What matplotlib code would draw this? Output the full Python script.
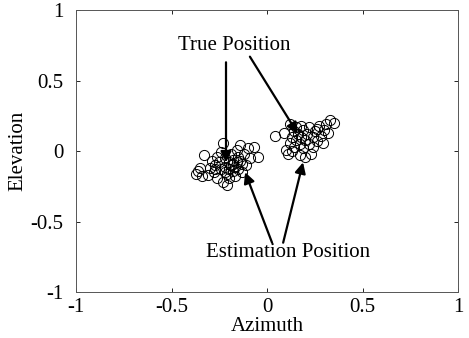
import matplotlib
matplotlib.use('Agg')
import matplotlib.pyplot as plt
from matplotlib.ticker import FormatStrFormatter

plt.rcParams['font.family'] = ['Liberation Serif', 'DejaVu Serif']
plt.rcParams['axes.unicode_minus'] = False

# estimated positions, left cluster (true position near (-0.2, -0.1))
left_x = [-0.36, -0.37, -0.34, -0.33, -0.30, -0.28, -0.27, -0.26, -0.25, -0.24,
          -0.23, -0.23, -0.22, -0.22, -0.21, -0.20, -0.20, -0.19, -0.19, -0.18,
          -0.18, -0.17, -0.16, -0.16, -0.15, -0.15, -0.14, -0.13, -0.12, -0.11,
          -0.10, -0.09, -0.07, -0.05, -0.21, -0.29, -0.24, -0.17, -0.13, -0.26, -0.20,
          -0.31, -0.35, -0.22, -0.18, -0.14, -0.27]
left_y = [-0.14, -0.16, -0.18, -0.03, -0.12, -0.15, -0.10, -0.19, -0.08, -0.13,
          -0.22, 0.06, -0.05, -0.11, -0.16, -0.08, -0.13, -0.02, -0.10, -0.14,
          -0.06, -0.11, 0.01, -0.08, -0.13, -0.04, 0.04, -0.09, -0.02, -0.10,
          0.02, -0.05, 0.03, -0.04, -0.24, -0.07, -0.01, -0.18, -0.15, -0.04, -0.19,
          -0.17, -0.12, -0.15, -0.09, -0.07, -0.13]

# right cluster (true position near (0.2, 0.1))
right_x = [0.04, 0.09, 0.10, 0.11, 0.12, 0.13, 0.14, 0.14, 0.15, 0.16,
           0.17, 0.17, 0.18, 0.19, 0.19, 0.20, 0.21, 0.22, 0.22, 0.23,
           0.24, 0.25, 0.26, 0.27, 0.28, 0.29, 0.30, 0.31, 0.32, 0.33,
           0.35, 0.18, 0.15, 0.12, 0.24, 0.20, 0.26, 0.13]
right_y = [0.11, 0.13, 0.01, -0.02, 0.06, 0.10, 0.03, 0.14, 0.08, 0.12,
           -0.03, 0.05, 0.10, 0.15, 0.02, 0.08, 0.12, 0.05, 0.17, -0.02,
           0.10, 0.14, 0.07, 0.18, 0.11, 0.06, 0.15, 0.19, 0.13, 0.22,
           0.20, 0.18, 0.17, 0.19, 0.03, -0.04, 0.16, 0.00]

fig = plt.figure(figsize=(4.69, 3.38), dpi=100)
ax = fig.add_axes([0.162, 0.136, 0.815, 0.834])

ax.plot(left_x, left_y, 'o', mfc='none', mec='k', ms=7.3, mew=0.7)
ax.plot(right_x, right_y, 'o', mfc='none', mec='k', ms=7.3, mew=0.7)

arrow = dict(arrowstyle='-|>', color='k', lw=1.6, mutation_scale=16,
             shrinkA=0, shrinkB=0)
ax.annotate('', xy=(-0.215, -0.08), xytext=(-0.215, 0.63), arrowprops=arrow)
ax.annotate('', xy=(0.16, 0.125), xytext=(-0.09, 0.67), arrowprops=arrow)
ax.annotate('', xy=(-0.115, -0.15), xytext=(0.026, -0.65), arrowprops=arrow)
ax.annotate('', xy=(0.188, -0.08), xytext=(0.084, -0.65), arrowprops=arrow)
ax.text(-0.17, 0.75, 'True Position', fontsize=15, ha='center', va='center')
ax.text(0.11, -0.72, 'Estimation Position', fontsize=15, ha='center', va='center')

ax.set_xlim(-1, 1)
ax.set_ylim(-1, 1)
ax.set_xticks([-1, -0.5, 0, 0.5, 1])
ax.set_yticks([-1, -0.5, 0, 0.5, 1])
ax.xaxis.set_major_formatter(FormatStrFormatter('%g'))
ax.yaxis.set_major_formatter(FormatStrFormatter('%g'))
ax.tick_params(direction='in', length=3, width=0.6, top=True, right=True,
               labelsize=15, colors='k', pad=4)
ax.tick_params(axis='y', pad=9)
for s in ax.spines.values():
    s.set_linewidth(0.7)
    s.set_color('#555555')
ax.set_xlabel('Azimuth', fontsize=15, labelpad=0)
ax.set_ylabel('Elevation', fontsize=15, labelpad=2)

fig.savefig('out.png', dpi=100)
